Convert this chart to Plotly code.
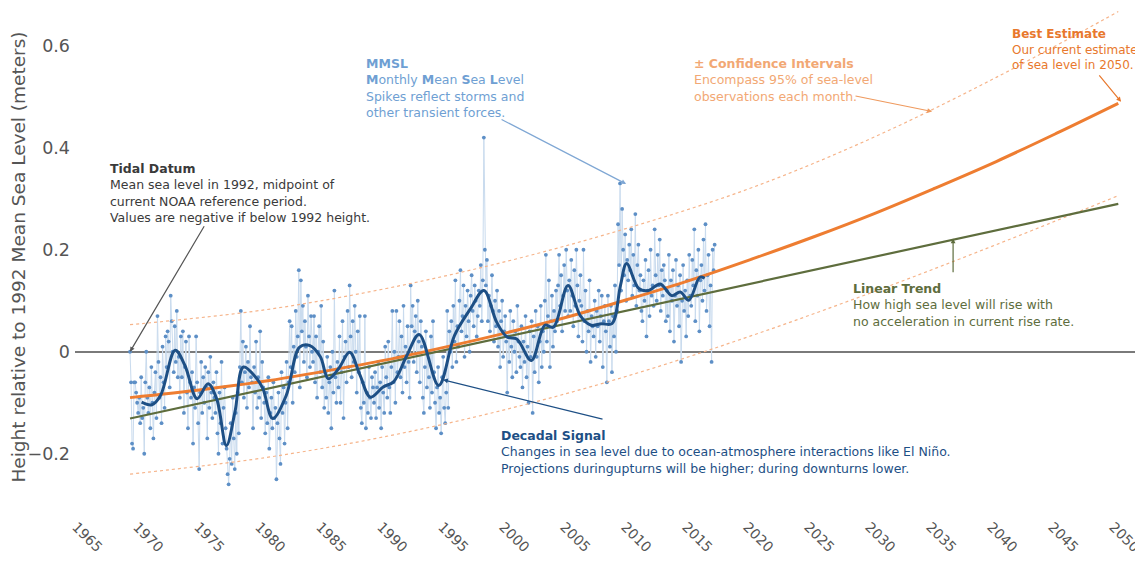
import plotly.graph_objects as go

# ---------------- data ----------------
years = list(range(1969, 2017))
# monthly mean sea level, centimetres relative to 1992 MSL (12 values per year)
mmsl_cm = [
    [0, -6, -18, -19, -6, -6, -8, -10, -12, -9, -14, -5],      # 1969
    [-13, -11, -20, -6, 0, -9, -12, -7, -15, -3, -10, -17],    # 1970
    [-8, -4, -13, 7, -2, -9, -5, -14, 1, -6, -11, 3],          # 1971
    [-3, 4, 2, -7, 11, 6, 0, -4, 5, -2, 8, -5],                # 1972
    [-1, -9, 3, -5, 4, -12, -3, 2, -8, -15, 3, -6],            # 1973
    [-9, -4, -18, -7, -11, 3, -6, -14, -23, -8, -2, -12],      # 1974
    [-5, -10, -3, -7, -17, -4, -11, -1, -8, -13, -6, -9],      # 1975
    [-12, -4, -16, -20, -8, -14, -2, -18, -11, -7, -15, -19],  # 1976
    [-24, -26, -21, -14, -22, -9, -17, -23, -12, -20, -8, -16],# 1977
    [-3, 8, -6, 2, -9, -4, 1, -11, -2, -7, 5, -5],             # 1978
    [-6, -15, -3, -8, 2, -11, -5, -9, 4, -13, -2, -7],         # 1979
    [-10, -16, -8, -14, -5, -19, -12, -9, -15, -6, -13, -11],  # 1980
    [-25, -14, -8, -17, -22, -4, -12, -7, -18, -10, -2, -15],  # 1981
    [-6, 6, -3, 5, -10, 1, -4, 8, -1, 3, 16, -7],              # 1982
    [14, 4, 9, -2, 6, 1, -5, 11, 3, -3, 7, 0],                 # 1983
    [-2, 7, -6, 3, -9, 0, 5, -4, 9, -7, 2, -11],               # 1984
    [-4, -9, -1, -12, -6, -3, -15, 0, -8, 12, -5, -10],        # 1985
    [-2, -7, 3, -10, -4, 6, -13, -1, 2, -6, 8, -3],            # 1986
    [13, 3, -5, 6, -2, 9, 0, -8, 4, -4, 7, -11],               # 1987
    [-14, -6, -10, 7, -15, -8, -12, -3, -9, -13, -5, -7],      # 1988
    [-10, -4, -13, -7, -2, -11, -6, -15, -3, -8, -12, 1],      # 1989
    [-5, -9, 2, -7, -12, -3, 8, -6, 0, -10, 8, -4],            # 1990
    [-1, 6, -5, 3, -8, 9, -3, 1, -6, 5, -2, -9],               # 1991
    [13, 5, 9, -2, 4, 7, -4, 10, 2, -6, 6, 1],                 # 1992
    [-9, -12, -3, 4, -7, 0, -5, -11, 3, -8, 6, -4],            # 1993
    [-10, -15, -7, -3, -12, -9, -16, -5, -1, -11, -14, -8],    # 1994
    [8, -11, 4, 0, 6, -3, 9, 2, 14, -2, 5, 1],                 # 1995
    [10, 16, 4, 7, 13, -1, 9, 3, 12, 6, 0, 11],                # 1996
    [15, 8, 5, 13, 10, 3, 7, 12, 9, 17, 6, 14],                # 1997
    [42, 20, 13, 18, 6, 11, 4, 9, 15, 8, 2, 10],               # 1998
    [5, 12, 1, 8, -3, 6, 10, -1, 4, 7, 2, -8],                 # 1999
    [3, -2, 8, 1, -5, 6, 0, 4, -4, 9, 2, -1],                  # 2000
    [-3, 5, -7, 2, -2, 7, -5, 1, -10, 4, -1, 6],               # 2001
    [-12, 3, -4, 8, -1, 5, -6, 2, 9, -3, 4, 0],                # 2002
    [10, 19, 2, 7, 14, -3, 6, 11, 1, 8, 4, 12],                # 2003
    [6, 13, 19, 9, 15, 4, 11, 17, 8, 20, 12, 7],               # 2004
    [14, 8, 18, 11, 5, 16, 9, 20, 13, 3, 10, 15],              # 2005
    [9, 2, 20, 6, 12, 0, 8, 4, 14, -2, 7, 5],                  # 2006
    [3, 10, -1, 8, 5, 12, 2, 7, 11, -3, 6, 9],                 # 2007
    [4, -6, 11, 6, 1, 9, -4, 7, 3, 13, 0, 8],                  # 2008
    [25, 17, 33, 12, 28, 20, 15, 23, 10, 18, 14, 21],          # 2009
    [16, 24, 11, 19, 13, 27, 9, 17, 21, 12, 15, 8],            # 2010
    [6, 14, 10, 18, 3, 12, 16, 7, 20, 11, 13, 9],              # 2011
    [24, 15, 10, 19, 13, 22, 8, 16, 11, 17, 14, 6],            # 2012
    [12, 7, 19, 4, 14, 10, 16, 2, 11, 18, 9, 13],              # 2013
    [5, 15, -2, 10, 17, 8, 12, 3, 14, 7, 19, 11],              # 2014
    [9, 18, 13, 24, 6, 16, 11, 20, 4, 14, 17, 10],             # 2015
    [22, 12, 25, 8, 15, 19, 5, 13, -2, 20, 16, 21],            # 2016
]

decadal_x = [1969.95, 1970.8, 1971.5, 1972.7, 1973.5, 1974.5, 1975.4, 1976.1, 1976.9, 1977.6,
             1978.3, 1979.4, 1979.9, 1980.7, 1981.8, 1982.9, 1983.75, 1984.6, 1985.25, 1986.1,
             1987.0, 1987.85, 1988.7, 1989.75, 1990.6, 1991.7, 1992.7, 1994.3, 1995.6, 1996.9,
             1998.0, 1999.05, 1999.9, 2000.7, 2001.9, 2003.0, 2003.7, 2004.9, 2005.9, 2006.8,
             2007.65, 2008.5, 2009.2, 2009.7, 2010.7, 2011.5, 2012.45, 2013.4, 2014.1, 2014.8,
             2015.7, 2016.1]
decadal_y = [-0.099, -0.104, -0.086, 0.003, -0.027, -0.092, -0.063, -0.092, -0.184, -0.118,
             -0.030, -0.053, -0.073, -0.131, -0.086, 0.009, 0.012, -0.010, -0.053, -0.033,
             -0.001, -0.046, -0.089, -0.069, -0.059, -0.007, 0.034, -0.066, 0.032, 0.084,
             0.120, 0.058, 0.029, 0.025, -0.017, 0.052, 0.048, 0.130, 0.071, 0.052,
             0.055, 0.055, 0.130, 0.173, 0.124, 0.120, 0.133, 0.110, 0.117, 0.101,
             0.146, 0.144]

proj_years = [1969, 1975, 1980, 1985, 1990, 1995, 2000, 2005, 2010, 2015, 2020,
              2025, 2030, 2035, 2040, 2045, 2050]
best_estimate = [-0.090, -0.074, -0.058, -0.038, -0.016, 0.010, 0.038, 0.069, 0.104, 0.141,
                 0.182, 0.225, 0.271, 0.321, 0.373, 0.429, 0.487]

ci_years = [1969, 1980, 1990, 2000, 2010, 2020, 2030, 2040, 2050]
ci_upper = [0.053, 0.082, 0.124, 0.178, 0.244, 0.322, 0.421, 0.538, 0.667]
ci_lower = [-0.240, -0.208, -0.166, -0.112, -0.046, 0.032, 0.118, 0.210, 0.306]

trend_years = [1969, 2050]
linear_trend = [-0.131, 0.290]

tick_years = list(range(1965, 2051, 5))
tick_labels = [str(y) for y in tick_years]

# ---------------- derived ----------------
mmsl_x, mmsl_y = [], []
for yr, row in zip(years, mmsl_cm):
    for m, v in enumerate(row):
        mmsl_x.append(yr + m / 12.0)
        mmsl_y.append(v / 100.0)

FONT = "DejaVu Sans"
C_DATA = "#5d8fc6"
C_DATA_LINE = "#c9dbee"
C_DEC = "#1d4f85"
C_BEST = "#ee7d31"
C_CI = "#f6b48a"
C_TREND = "#5e6d3d"
C_MMSL_TXT = "#6f9fd3"
C_CI_TXT = "#f2a874"
ANN_SIZE = 12.5

fig = go.Figure()
fig.add_trace(go.Scatter(x=mmsl_x, y=mmsl_y, mode="lines+markers",
                         line=dict(color=C_DATA_LINE, width=1),
                         marker=dict(color=C_DATA, size=3.8), hoverinfo="skip"))
fig.add_trace(go.Scatter(x=ci_years, y=ci_upper, mode="lines", line_shape="spline",
                         line=dict(color=C_CI, width=1.2, dash="3px,3px"), hoverinfo="skip"))
fig.add_trace(go.Scatter(x=ci_years, y=ci_lower, mode="lines", line_shape="spline",
                         line=dict(color=C_CI, width=1.2, dash="3px,3px"), hoverinfo="skip"))
fig.add_trace(go.Scatter(x=trend_years, y=linear_trend, mode="lines",
                         line=dict(color=C_TREND, width=2.2), hoverinfo="skip"))
fig.add_trace(go.Scatter(x=proj_years, y=best_estimate, mode="lines", line_shape="spline",
                         line=dict(color=C_BEST, width=3), hoverinfo="skip"))
fig.add_trace(go.Scatter(x=decadal_x, y=decadal_y, mode="lines", line_shape="spline",
                         line=dict(color=C_DEC, width=3), hoverinfo="skip"))

def text_ann(x, y, text, color, size=ANN_SIZE, xref="x", xanchor="left"):
    fig.add_annotation(x=x, y=y, xref=xref, yref="y", text=text, showarrow=False,
                       xanchor=xanchor, yanchor="top", align="left",
                       font=dict(family=FONT, size=size, color=color))

def arrow_ann(x, y, ax, ay, color):
    fig.add_annotation(x=x, y=y, ax=ax, ay=ay, xref="x", yref="y", axref="x", ayref="y",
                       text="", showarrow=True, arrowhead=2, arrowsize=0.8,
                       arrowwidth=1.2, arrowcolor=color, standoff=0)

text_ann(1967.2, 0.378,
         "<b>Tidal Datum</b><br>Mean sea level in 1992, midpoint of<br>"
         "current NOAA reference period.<br>Values are negative if below 1992 height.",
         "#3a3a3a")
arrow_ann(1969.0, 0.0, 1975.15, 0.249, "#555555")

text_ann(1988.18, 0.584,
         "<b>MMSL</b><br><b>M</b>onthly <b>M</b>ean <b>S</b>ea <b>L</b>evel<br>"
         "Spikes reflect storms and<br>other transient forces.",
         C_MMSL_TXT)
arrow_ann(2009.66, 0.329, 1999.33, 0.457, "#7fa7d4")

text_ann(2015.07, 0.584,
         "<b>± Confidence Intervals</b><br>Encompass 95% of sea-level<br>observations each month.",
         C_CI_TXT)
arrow_ann(2034.74, 0.471, 2028.34, 0.502, "#ef9a5e")

text_ann(1.0, 0.641,
         "<b>Best Estimate</b><br>Our current estimate<br>of sea level in 2050.",
         "#e8782d", size=12, xref="paper", xanchor="right")
arrow_ann(2050.23, 0.490, 2048.34, 0.545, "#e8782d")

text_ann(2028.1, 0.143,
         "<b>Linear Trend</b><br>How high sea level will rise with<br>"
         "no acceleration in current rise rate.",
         C_TREND)
arrow_ann(2036.46, 0.222, 2036.46, 0.153, C_TREND)

text_ann(1999.25, -0.145,
         "<b>Decadal Signal</b><br>Changes in sea level due to ocean-atmosphere interactions like El Niño.<br>"
         "Projections duringupturns will be higher; during downturns lower.",
         C_DEC)
arrow_ann(1994.66, -0.055, 2007.85, -0.133, C_DEC)

# the page body adds an 8px offset, so the figure is sized to fit the 1143x565 window
fig.update_layout(
    width=1135, height=557,
    margin=dict(l=67, r=3, t=0, b=59),
    paper_bgcolor="white", plot_bgcolor="white",
    showlegend=False,
    font=dict(family=FONT, color="#555555"),
    xaxis=dict(range=[1964.49, 2051.78], tickvals=tick_years, ticktext=tick_labels,
               tickangle=45, showgrid=False, zeroline=False, showline=False,
               automargin=False, ticklabeloverflow="allow",
               ticklabelstandoff=9, ticklabelshift=-5,
               tickfont=dict(size=14, color="#555555")),
    yaxis=dict(range=[-0.3025, 0.674], tickvals=[-0.2, 0, 0.2, 0.4, 0.6],
               ticktext=["−0.2", "0", "0.2", "0.4", "0.6"],
               showgrid=False, zeroline=True, zerolinecolor="#7a7a7a", zerolinewidth=1.5,
               automargin=False, ticklabelstandoff=4,
               tickfont=dict(size=17.5, color="#555555"),
               title=dict(text="Height relative to 1992 Mean Sea Level (meters)",
                          font=dict(size=18.5, color="#555555"), standoff=3)),
)

fig.write_html("out.html")
